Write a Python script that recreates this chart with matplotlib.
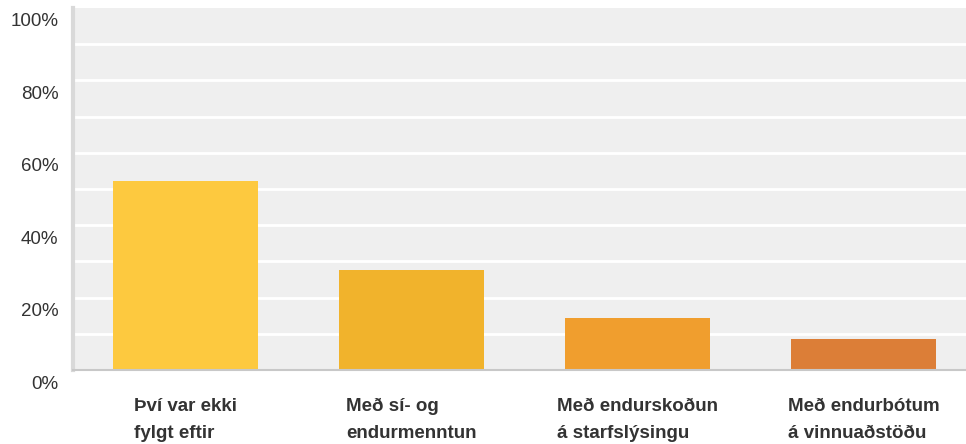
import matplotlib.pyplot as plt
from matplotlib.transforms import ScaledTranslation

categories = ['Því var ekki\nfylgt eftir', 'Með sí- og\nendurmenntun',
              'Með endurskoðun\ná starfslýsingu', 'Með endurbótum\ná vinnuaðstöðu']
values = [52.2, 27.5, 14.5, 8.7]
colors = ['#FDC93F', '#F1B32C', '#F09E2E', '#DC7E37']
ytick_values = [0, 20, 40, 60, 80, 100]
ytick_labels = ['0%', '20%', '40%', '60%', '80%', '100%']

plt.rcParams['font.family'] = ['Liberation Sans', 'DejaVu Sans']

fig = plt.figure(figsize=(9.66, 4.44), dpi=100)
ax = fig.add_axes([72.5 / 966, 74 / 444, 904 / 966, 362 / 444])
ax.set_facecolor('#EFEFEF')

x = range(len(categories))
ax.bar(x, values, width=0.64, color=colors, zorder=3)

ax.set_xlim(-0.5, 3.5)
ax.set_ylim(0, 100)

# white gridlines every 10%
for g in range(10, 100, 10):
    ax.axhline(g, color='white', lw=2, zorder=1)

ax.set_yticks(ytick_values)
ax.set_yticklabels(ytick_labels, fontsize=13.5, color='#333333')
ax.tick_params(axis='y', length=0, pad=10)
offset = ScaledTranslation(0, -12 / 100, fig.dpi_scale_trans)
for lbl in ax.get_yticklabels():
    lbl.set_transform(lbl.get_transform() + offset)

ax.set_xticks(list(x))
ax.set_xticklabels(categories, fontsize=13.5, fontweight='bold', color='#333333',
                   multialignment='left', linespacing=1.8)
ax.tick_params(axis='x', length=0, pad=20)

for side in ['top', 'right']:
    ax.spines[side].set_visible(False)
ax.spines['left'].set_color('#D9D9D9')
ax.spines['left'].set_linewidth(3)
ax.spines['bottom'].set_color('#C8C8C8')
ax.spines['bottom'].set_linewidth(1.5)
ax.spines['bottom'].set_zorder(4)

fig.savefig('out.png', dpi=100)
